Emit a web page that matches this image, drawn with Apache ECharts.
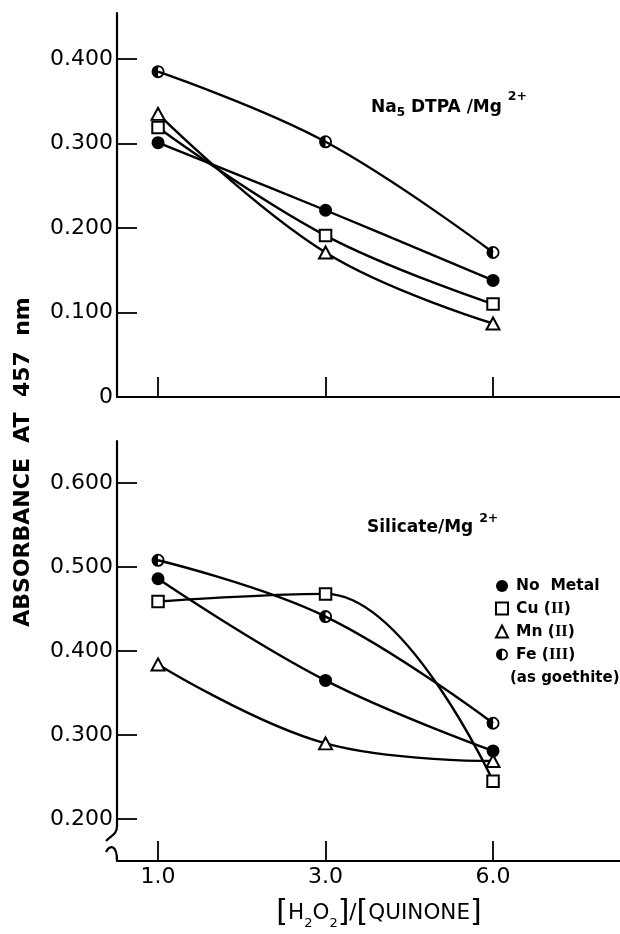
<!DOCTYPE html>
<html>
<head>
<meta charset="utf-8">
<script src="https://cdn.jsdelivr.net/npm/echarts@6/dist/echarts.min.js"></script>
<style>
  html, body { margin: 0; padding: 0; background: #fff; }
  #chart { width: 620px; height: 934px; }
</style>
</head>
<body>
<div id="chart"></div>
<script>
// [H2O2]/[quinone] ratios, drawn at equal spacing (index 0,1,2)
var ratios = ["1.0", "3.0", "6.0"];
var metals = ["No Metal", "Cu (II)", "Mn (II)", "Fe (III)"];

// Na5DTPA / Mg2+ panel
var dtpaNoMetal = [0.301, 0.221, 0.138];
var dtpaCu = [0.319, 0.191, 0.110];
var dtpaMn = [0.335, 0.171, 0.087];
var dtpaFe = [0.385, 0.302, 0.171];

// Silicate / Mg2+ panel
var silNoMetal = [0.486, 0.365, 0.281];
var silCu = [0.459, 0.468, 0.245];
var silMn = [0.384, 0.290, 0.269];
var silFe = [0.508, 0.441, 0.314];

// y tick positions and labels
var topTicks = [0, 0.1, 0.2, 0.3, 0.4];
var topTickLabels = ["0", "0.100", "0.200", "0.300", "0.400"];
var bottomTicks = [0.2, 0.3, 0.4, 0.5, 0.6];
var bottomTickLabels = ["0.200", "0.300", "0.400", "0.500", "0.600"];

var xMin = -0.245, xMax = 2.758;
var topMin = 0, topMax = 0.4544;
var bottomMin = 0.15, bottomMax = 0.65;

// half filled circle (left half black)
var halfCircle = "path://M0,-10A10,10 0 0,0 0,10Z M0,-10A10,10 0 0,1 0,10L0,7.2A7.2,7.2 0 0,0 0,-7.2Z";

var marks = {
  "No Metal": { symbol: "circle", size: 13, color: "#000", border: 0 },
  "Cu (II)": { symbol: "rect", size: 11.5, color: "#fff", border: 2 },
  "Mn (II)": { symbol: "triangle", size: [13, 12], color: "#fff", border: 2 },
  "Fe (III)": { symbol: halfCircle, size: 13, color: "#000", border: 0 }
};

var chart = echarts.init(document.getElementById("chart"));
var font = "DejaVu Sans";

function toPoints(arr) {
  return arr.map(function (v, i) { return [i, v]; });
}

function makeSeries(name, arr, idx) {
  var m = marks[name];
  return {
    name: name,
    type: "line",
    xAxisIndex: idx,
    yAxisIndex: idx,
    data: toPoints(arr),
    smooth: 0.4,
    symbol: m.symbol,
    symbolSize: m.size,
    symbolKeepAspect: true,
    showSymbol: true,
    lineStyle: { color: "#000", width: 2.4 },
    itemStyle: { color: m.color, borderColor: "#000", borderWidth: m.border },
    emphasis: { disabled: true }
  };
}

function xAxisFor(idx, showLabels) {
  return {
    type: "value",
    gridIndex: idx,
    min: xMin,
    max: xMax,
    axisLine: { show: true, onZero: false, lineStyle: { color: "#000", width: 2.2 } },
    axisTick: {
      show: true, inside: true, length: 20,
      customValues: ratios.map(function (r, i) { return i; }),
      lineStyle: { color: "#000", width: 1.8 }
    },
    axisLabel: {
      show: showLabels,
      customValues: ratios.map(function (r, i) { return i; }),
      formatter: function (v) { return ratios[Math.round(v)]; },
      color: "#000", fontSize: 22, fontFamily: font, margin: 5
    },
    splitLine: { show: false }
  };
}

function yAxisFor(idx, min, max, ticks, labels) {
  return {
    type: "value",
    gridIndex: idx,
    min: min,
    max: max,
    axisLine: { show: true, onZero: false, lineStyle: { color: "#000", width: 2.2 } },
    axisTick: {
      show: true, inside: true, length: 20,
      customValues: ticks,
      lineStyle: { color: "#000", width: 1.8 }
    },
    axisLabel: {
      customValues: ticks,
      formatter: function (v) {
        for (var i = 0; i < ticks.length; i++) {
          if (Math.abs(ticks[i] - v) < 1e-6) return labels[i];
        }
        return "";
      },
      color: "#000", fontSize: 22, fontFamily: font, margin: 4
    },
    splitLine: { show: false }
  };
}

var option = {
  animation: false,
  backgroundColor: "#fff",
  grid: [
    { left: 117, right: 0, top: 13, bottom: 537, outerBoundsMode: "none" },
    { left: 117, right: 0, top: 441, bottom: 73, outerBoundsMode: "none" }
  ],
  xAxis: [xAxisFor(0, false), xAxisFor(1, true)],
  yAxis: [
    yAxisFor(0, topMin, topMax, topTicks, topTickLabels),
    yAxisFor(1, bottomMin, bottomMax, bottomTicks, bottomTickLabels)
  ],
  legend: {
    orient: "vertical",
    left: 490,
    top: 573,
    itemWidth: 12,
    itemHeight: 12,
    itemGap: 6,
    selectedMode: false,
    data: metals.map(function (n) {
      var m = marks[n];
      return {
        name: n,
        icon: m.symbol,
        itemStyle: { color: m.color, borderColor: "#000", borderWidth: m.border }
      };
    }),
    formatter: function (name) {
      return name.replace("No Metal", "No  Metal").replace(/\((I+)\)/, "({r|$1})");
    },
    textStyle: {
      fontFamily: font, fontWeight: "bold", fontSize: 15.5, lineHeight: 15,
      color: "#000", padding: [0, 0, 0, 3],
      rich: { r: { fontFamily: "Liberation Serif", fontWeight: "bold", fontSize: 16.5, lineHeight: 15 } }
    }
  },
  graphic: [
    {
      id: "ytitle", type: "text", x: 23, y: 462, rotation: Math.PI / 2,
      style: {
        text: "ABSORBANCE  AT  457  nm", fill: "#000",
        fontFamily: font, fontWeight: "bold", fontSize: 22,
        align: "center", verticalAlign: "middle"
      }
    },
    {
      id: "xtitle", type: "text", x: 379, y: 913,
      style: {
        text: "{br|[}H{s|2}O{s|2}{br|]}/{br|[}QUINONE{br|]}", fill: "#000",
        fontFamily: font, fontSize: 21.5, lineHeight: 34,
        align: "center", verticalAlign: "middle",
        rich: {
          br: { fontFamily: font, fontSize: 30, lineHeight: 34 },
          s: { fontFamily: font, fontSize: 13, lineHeight: 20, verticalAlign: "bottom" }
        }
      }
    },
    {
      id: "dtpa", type: "text", x: 371, y: 108,
      style: {
        text: "Na{sub|5} DTPA /Mg {sup|2+}", fill: "#000",
        fontFamily: font, fontWeight: "bold", fontSize: 17, lineHeight: 36,
        align: "left", verticalAlign: "middle",
        rich: {
          sub: { fontFamily: font, fontWeight: "bold", fontSize: 12, lineHeight: 12, verticalAlign: "middle", padding: [9, 0, 0, 0] },
          sup: { fontFamily: font, fontWeight: "bold", fontSize: 12.5, lineHeight: 12, verticalAlign: "top" }
        }
      }
    },
    {
      id: "silicate", type: "text", x: 367, y: 528,
      style: {
        text: "Silicate/Mg {sup|2+}", fill: "#000",
        fontFamily: font, fontWeight: "bold", fontSize: 17, lineHeight: 32,
        align: "left", verticalAlign: "middle",
        rich: {
          sup: { fontFamily: font, fontWeight: "bold", fontSize: 12.5, lineHeight: 12, verticalAlign: "top" }
        }
      }
    },
    {
      id: "goethite", type: "text", x: 510, y: 678,
      style: {
        text: "(as goethite)", fill: "#000",
        fontFamily: font, fontWeight: "bold", fontSize: 15,
        align: "left", verticalAlign: "middle"
      }
    }
  ],
  series: [
    makeSeries("No Metal", dtpaNoMetal, 0),
    makeSeries("Cu (II)", dtpaCu, 0),
    makeSeries("Mn (II)", dtpaMn, 0),
    makeSeries("Fe (III)", dtpaFe, 0),
    makeSeries("No Metal", silNoMetal, 1),
    makeSeries("Cu (II)", silCu, 1),
    makeSeries("Mn (II)", silMn, 1),
    makeSeries("Fe (III)", silFe, 1)
  ]
};

chart.setOption(option);

// axis break mark at the foot of the lower y axis
var corner = chart.convertToPixel({ gridIndex: 1 }, [xMin, bottomMin]);
var low = chart.convertToPixel({ gridIndex: 1 }, [xMin, bottomTicks[0]]);
var ax = corner[0], ay = corner[1], ty = low[1];
chart.setOption({
  graphic: [
    {
      id: "breakGap", type: "rect", z: 100,
      shape: { x: ax - 3, y: ty + 8, width: 6, height: ay - ty - 11 },
      style: { fill: "#fff" }
    },
    {
      id: "break1", type: "bezierCurve", z: 101,
      shape: { x1: ax, y1: ty + 7, cpx1: ax, cpy1: ty + 15, cpx2: ax - 5, cpy2: ty + 16, x2: ax - 11, y2: ty + 22 },
      style: { stroke: "#000", lineWidth: 2.2, fill: null }
    },
    {
      id: "break2", type: "bezierCurve", z: 101,
      shape: { x1: ax - 11, y1: ty + 33, cpx1: ax - 7, cpy1: ty + 25, cpx2: ax, cpy2: ty + 26, x2: ax, y2: ay },
      style: { stroke: "#000", lineWidth: 2.2, fill: null }
    }
  ]
});
</script>
</body>
</html>
